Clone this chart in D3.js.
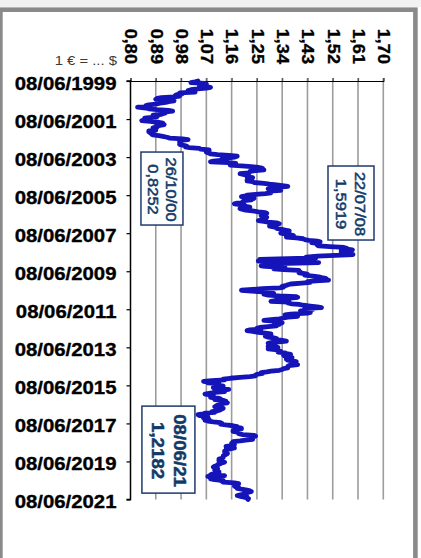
<!DOCTYPE html>
<html>
<head>
<meta charset="utf-8">
<script src="https://cdn.jsdelivr.net/npm/d3@7"></script>
<style>
  html, body { margin: 0; padding: 0; background: #ffffff; }
  svg { display: block; }
  text { font-family: "Liberation Sans", Arial, sans-serif; }
</style>
</head>
<body>
<svg id="chart" width="421" height="558"></svg>
<script>
// ---------- DATA ----------
// EUR/USD (1 € = ... $), two readings per month (around the 8th and the 23rd), from 08/06/1999
const rates1999 = [1.040,1.030, 1.015,1.065, 1.070,1.055, 1.045,1.065, 1.085,1.070, 1.040,1.015, 1.005,1.010];
const rates2000 = [1.030,0.975, 0.985,0.965, 0.960,0.975, 0.955,0.910, 0.895,0.890, 0.945,0.955, 0.935,0.925, 0.905,0.890, 0.865,0.855, 0.860,0.8252, 0.855,0.865, 0.895,0.935];
const rates2001 = [0.950,0.925, 0.925,0.915, 0.910,0.880, 0.890,0.895, 0.875,0.850, 0.850,0.855, 0.840,0.870, 0.900,0.915, 0.905,0.920, 0.905,0.890, 0.895,0.880, 0.885,0.890];
const rates2002 = [0.890,0.865, 0.865,0.870, 0.880,0.875, 0.880,0.900, 0.915,0.930, 0.940,0.985, 1.005,0.980, 0.980,0.975, 0.980,0.980, 0.975,0.985, 1.000,0.995, 1.010,1.045];
const rates2003 = [1.050,1.080, 1.080,1.075, 1.070,1.080, 1.085,1.110, 1.150,1.180, 1.170,1.150, 1.140,1.125, 1.120,1.095, 1.085,1.150, 1.175,1.165, 1.155,1.195, 1.230,1.255];
const rates2004 = [1.270,1.250, 1.275,1.245, 1.225,1.225, 1.220,1.190, 1.205,1.220, 1.215,1.215, 1.235,1.220, 1.220,1.215, 1.215,1.235, 1.240,1.275, 1.295,1.320, 1.340,1.360];
const rates2005 = [1.325,1.305, 1.290,1.315, 1.335,1.295, 1.295,1.300, 1.280,1.245, 1.215,1.210, 1.195,1.215, 1.240,1.230, 1.230,1.205, 1.200,1.205, 1.180,1.170, 1.190,1.190];
const rates2006 = [1.210,1.225, 1.195,1.190, 1.200,1.210, 1.235,1.255, 1.280,1.285, 1.265,1.265, 1.265,1.275, 1.285,1.280, 1.270,1.270, 1.255,1.275, 1.290,1.320, 1.330,1.315];
const rates2007 = [1.305,1.295, 1.310,1.320, 1.320,1.335, 1.350,1.365, 1.355,1.345, 1.335,1.350, 1.370,1.380, 1.365,1.355, 1.390,1.415, 1.420,1.435, 1.465,1.475, 1.445,1.465];
const rates2008 = [1.470,1.465, 1.470,1.510, 1.560,1.570, 1.570,1.590, 1.550,1.560, 1.550,1.570, 1.585,1.5919, 1.530,1.465, 1.425,1.460, 1.360,1.260, 1.270,1.255, 1.310,1.470];
const rates2009 = [1.360,1.290, 1.280,1.265, 1.280,1.350, 1.320,1.310, 1.345,1.400, 1.400,1.405, 1.400,1.420, 1.430,1.420, 1.450,1.470, 1.480,1.495, 1.490,1.505, 1.460,1.430];
const rates2010 = [1.440,1.410, 1.370,1.360, 1.355,1.340, 1.345,1.330, 1.270,1.235, 1.195,1.230, 1.270,1.290, 1.310,1.275, 1.290,1.330, 1.390,1.395, 1.370,1.320, 1.320,1.315];
const rates2011 = [1.300,1.365, 1.360,1.375, 1.400,1.415, 1.440,1.465, 1.480,1.420, 1.450,1.430, 1.405,1.435, 1.440,1.430, 1.370,1.350, 1.360,1.395, 1.360,1.345, 1.330,1.300];
const rates2012 = [1.275,1.310, 1.325,1.340, 1.320,1.330, 1.310,1.320, 1.290,1.260, 1.250,1.265, 1.225,1.215, 1.235,1.255, 1.280,1.300, 1.295,1.300, 1.280,1.290, 1.310,1.320];
const rates2013 = [1.310,1.335, 1.355,1.330, 1.300,1.290, 1.300,1.315, 1.300,1.290, 1.325,1.310, 1.290,1.315, 1.325,1.335, 1.325,1.350, 1.355,1.370, 1.345,1.350, 1.370,1.375];
const rates2014 = [1.365,1.355, 1.360,1.375, 1.390,1.380, 1.380,1.385, 1.395,1.365, 1.360,1.360, 1.360,1.345, 1.340,1.330, 1.300,1.285, 1.265,1.270, 1.250,1.245, 1.245,1.225];
const rates2015 = [1.190,1.155, 1.130,1.135, 1.090,1.060, 1.080,1.075, 1.115,1.100, 1.115,1.130, 1.100,1.095, 1.100,1.150, 1.125,1.125, 1.135,1.100, 1.080,1.065, 1.085,1.095];
const rates2016 = [1.085,1.085, 1.110,1.120, 1.100,1.130, 1.140,1.130, 1.145,1.120, 1.125,1.110, 1.105,1.100, 1.120,1.130, 1.120,1.120, 1.110,1.090, 1.100,1.065, 1.060,1.040];
const rates2017 = [1.045,1.075, 1.075,1.060, 1.065,1.080, 1.065,1.075, 1.095,1.120, 1.125,1.120, 1.140,1.165, 1.180,1.180, 1.195,1.195, 1.180,1.165, 1.165,1.180, 1.185,1.185];
const rates2018 = [1.200,1.240, 1.245,1.235, 1.230,1.235, 1.235,1.210, 1.190,1.165, 1.170,1.160, 1.170,1.170, 1.160,1.140, 1.160,1.170, 1.155,1.140, 1.140,1.135, 1.135,1.140];
const rates2019 = [1.145,1.140, 1.135,1.130, 1.130,1.130, 1.125,1.115, 1.120,1.115, 1.125,1.135, 1.125,1.120, 1.110,1.110, 1.100,1.095, 1.100,1.110, 1.105,1.100, 1.110,1.115];
const rates2020 = [1.115,1.105, 1.090,1.085, 1.135,1.075, 1.090,1.085, 1.085,1.100, 1.130,1.125, 1.130,1.170, 1.185,1.180, 1.180,1.170, 1.175,1.185, 1.180,1.195, 1.215,1.225];
const rates2021 = [1.230,1.215, 1.205,1.215, 1.195,1.180, 1.190,1.205, 1.215,1.220, 1.2182];

const valueTicks = [0.80, 0.89, 0.98, 1.07, 1.16, 1.25, 1.34, 1.43, 1.52, 1.61, 1.70];
const dateTicks = ["1999-06-08","2001-06-08","2003-06-08","2005-06-08","2007-06-08","2009-06-08",
                   "2011-06-08","2013-06-08","2015-06-08","2017-06-08","2019-06-08","2021-06-08"];
const unitLabel = "1 € = ... $";
const noteLines = [["26/10/00", "0,8252"], ["22/07/08", "1,5919"], ["08/06/21", "1,2182"]];
// where each note box is centred, in data units (value, date)
const noteValues = [0.912, 1.585, 0.935];
const noteDates = ["2005-02-01", "2005-11-06", "2018-10-24"];

// ---------- BUILD ----------
const allRates = [].concat(rates1999, rates2000, rates2001, rates2002, rates2003, rates2004, rates2005,
  rates2006, rates2007, rates2008, rates2009, rates2010, rates2011, rates2012, rates2013, rates2014,
  rates2015, rates2016, rates2017, rates2018, rates2019, rates2020, rates2021);
const series = allRates.map((v, i) => ({
  date: new Date(Date.UTC(1999, 5 + Math.floor(i / 2), i % 2 ? 23 : 8)),
  v
}));
const parse = d3.utcParse("%Y-%m-%d");

const svg = d3.select("#chart");
const FONT = '"Liberation Sans", Arial, sans-serif';

// frame
svg.append("rect").attr("x", 0).attr("y", 0).attr("width", 421).attr("height", 7)
  .attr("fill", "#f2f2f2");
svg.append("rect").attr("x", 0.4).attr("y", 9.7).attr("width", 415).attr("height", 600)
  .attr("fill", "#ffffff").attr("stroke", "#8a8a8a").attr("stroke-width", 4.6);

const plotL = 130.5, plotR = 383.3, plotT = 81, plotB = 499.5;
const x = d3.scaleLinear().domain([0.80, 1.70]).range([plotL, plotR]);
const y = d3.scaleUtc().domain([parse("1999-06-08"), parse("2021-06-08")]).range([plotT, plotB]);

// gridlines
svg.append("g").selectAll("line").data(valueTicks.slice(1)).join("line")
  .attr("x1", d => x(d)).attr("x2", d => x(d))
  .attr("y1", plotT - 3).attr("y2", plotB)
  .attr("stroke", "#9c9c9c").attr("stroke-width", 1.6);

// top value axis
const comma = d3.formatLocale({decimal: ",", thousands: ".", grouping: [3], currency: ["", "$"]}).format(".2f");
const gx = svg.append("g").attr("transform", `translate(0,${plotT})`)
  .call(d3.axisTop(x).tickValues(valueTicks).tickSize(3).tickFormat(comma));
gx.select(".domain").attr("stroke", "#000").attr("stroke-width", 1.2);
gx.selectAll(".tick line").attr("stroke", "#555").attr("stroke-width", 1.2);
gx.selectAll(".tick text")
  .attr("x", null).attr("y", null).attr("dy", null)
  .attr("text-anchor", "end").attr("dominant-baseline", "central")
  .attr("transform", "translate(0,-17) rotate(90) scale(1.1,1)")
  .attr("font-family", FONT).attr("font-size", 16.5).attr("font-weight", "bold")
  .attr("fill", "#000").attr("stroke", "#000").attr("stroke-width", 0.35);

// left date axis
const fmt = d3.utcFormat("%d/%m/%Y");
const gy = svg.append("g").attr("transform", `translate(${plotL},0)`)
  .call(d3.axisLeft(y).tickValues(dateTicks.map(parse)).tickSize(4).tickFormat(fmt));
gy.select(".domain").attr("stroke", "#000").attr("stroke-width", 1.5)
  .attr("d", `M-4,${plotT}H0V${plotB}H-4`);
gy.selectAll(".tick line").attr("stroke", "#000").attr("stroke-width", 1.2);
gy.selectAll(".tick text")
  .attr("x", null).attr("dy", null)
  .attr("text-anchor", "end").attr("dominant-baseline", "central")
  .attr("transform", "translate(-14,1.5) scale(1.1,1)")
  .attr("font-family", FONT).attr("font-size", 18.5).attr("font-weight", "bold")
  .attr("fill", "#000").attr("stroke", "#000").attr("stroke-width", 0.35);

// unit label
svg.append("text")
  .attr("transform", `translate(${plotL - 13.5},65) scale(1.1,1)`)
  .attr("text-anchor", "end").attr("font-family", FONT).attr("font-size", 13.5)
  .attr("fill", "#3a3a3a").text(unitLabel);

// the rate line
const line = d3.line().x(d => x(d.v)).y(d => y(d.date));
svg.append("path").datum(series)
  .attr("d", line).attr("fill", "none")
  .attr("stroke", "#1414b8").attr("stroke-width", 4.8)
  .attr("stroke-linejoin", "round").attr("stroke-linecap", "round");

// note boxes
const noteStyle = [
  {w: 42, h: 73, size: 15, weight: "normal", gap: 18},
  {w: 46, h: 74, size: 15, weight: "normal", gap: 19},
  {w: 53, h: 87, size: 17, weight: "bold", gap: 22}
];
noteLines.forEach((lines, i) => {
  const cx = x(noteValues[i]), cy = y(parse(noteDates[i]));
  const st = noteStyle[i];
  const g = svg.append("g");
  g.append("rect")
    .attr("x", cx - st.w / 2).attr("y", cy - st.h / 2).attr("width", st.w).attr("height", st.h)
    .attr("fill", "#fff").attr("stroke", "#1f3a6e").attr("stroke-width", 1.5);
  lines.forEach((t, j) => {
    const off = (j === 0 ? 1 : -1) * st.gap / 2;
    g.append("text")
      .attr("transform", `translate(${cx + off},${cy + 1}) rotate(90) scale(1.1,1)`)
      .attr("text-anchor", "middle").attr("dominant-baseline", "central")
      .attr("font-family", FONT).attr("font-size", st.size).attr("font-weight", st.weight)
      .attr("fill", "#123a66").attr("stroke", "#123a66").attr("stroke-width", 0.5).text(t);
  });
});
</script>
</body>
</html>
